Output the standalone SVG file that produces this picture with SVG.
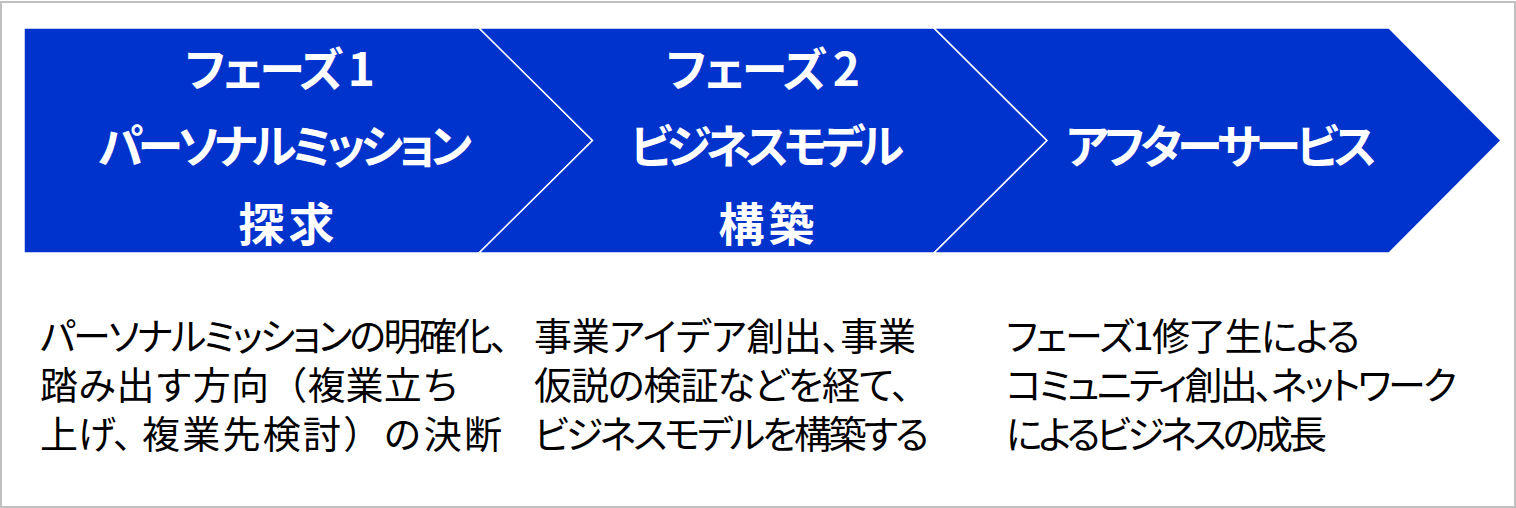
<svg xmlns="http://www.w3.org/2000/svg" width="1516" height="508" viewBox="0 0 1516 508">
<style>
.frame{fill:#ffffff;stroke:#c0c0c0;stroke-width:2}
.chev{fill:#0033cc;stroke:#ffffff;stroke-width:1.5;stroke-linejoin:miter}
.hd{font-family:"Noto Sans CJK JP","Noto Sans",sans-serif;font-weight:bold;font-size:46px;fill:#ffffff;text-anchor:middle;dominant-baseline:central;font-feature-settings:"palt"}
.bd{font-family:"Noto Sans CJK JP","Noto Sans",sans-serif;font-size:38px;fill:#000000;dominant-baseline:central}
.p{font-feature-settings:"palt"}
.n{font-feature-settings:normal}
</style>
<rect class="frame" x="1" y="2" width="1514" height="505"/>
<g id="connectors"></g>
<g id="phase1">
<polygon class="chev" points="24,28 479,28 592.5,140.5 479,253 24,253"/>
<text class="hd" x="280" y="66" textLength="190" lengthAdjust="spacing">フェーズ 1</text>
<text class="hd" x="285" y="143" textLength="374" lengthAdjust="spacing">パーソナルミッション</text>
<text class="hd" x="286.5" y="221" textLength="96" lengthAdjust="spacing">探求</text>
<text class="bd"><tspan class="p" x="40" y="333" textLength="469" lengthAdjust="spacing">パーソナルミッションの明確化、</tspan><tspan class="n" x="40" y="382" textLength="420" lengthAdjust="spacing">踏み出す方向（複業立ち</tspan><tspan class="p" x="40" y="430.5">上げ、</tspan><tspan class="n" x="142" y="430.5" textLength="360" lengthAdjust="spacing">複業先検討）の決断</tspan></text>
</g>
<g id="phase2">
<polygon class="chev" points="479,28 934,28 1047,140.5 934,253 479,253 592.5,140.5"/>
<text class="hd" x="763" y="66" textLength="194" lengthAdjust="spacing">フェーズ 2</text>
<text class="hd" x="767" y="143" textLength="274" lengthAdjust="spacing">ビジネスモデル</text>
<text class="hd" x="766.5" y="221" textLength="96" lengthAdjust="spacing">構築</text>
<text class="bd"><tspan class="p" x="534" y="333" textLength="382" lengthAdjust="spacing">事業アイデア創出、事業</tspan><tspan class="p" x="534" y="382" textLength="376" lengthAdjust="spacing">仮説の検証などを経て、</tspan><tspan class="p" x="534" y="430.5" textLength="395" lengthAdjust="spacing">ビジネスモデルを構築する</tspan></text>
</g>
<g id="aftercare">
<polygon class="chev" points="934,28 1389,28 1501,140.5 1389,253 934,253 1047,140.5"/>
<text class="hd" x="1221.5" y="142.5" textLength="311" lengthAdjust="spacing">アフターサービス</text>
<text class="bd"><tspan class="p" x="1006" y="333" textLength="354" lengthAdjust="spacing">フェーズ1修了生による</tspan><tspan class="p" x="1006" y="382" textLength="451" lengthAdjust="spacing">コミュニティ創出、ネットワーク</tspan><tspan class="p" x="1006" y="430.5" textLength="321" lengthAdjust="spacing">によるビジネスの成長</tspan></text>
</g>
</svg>
